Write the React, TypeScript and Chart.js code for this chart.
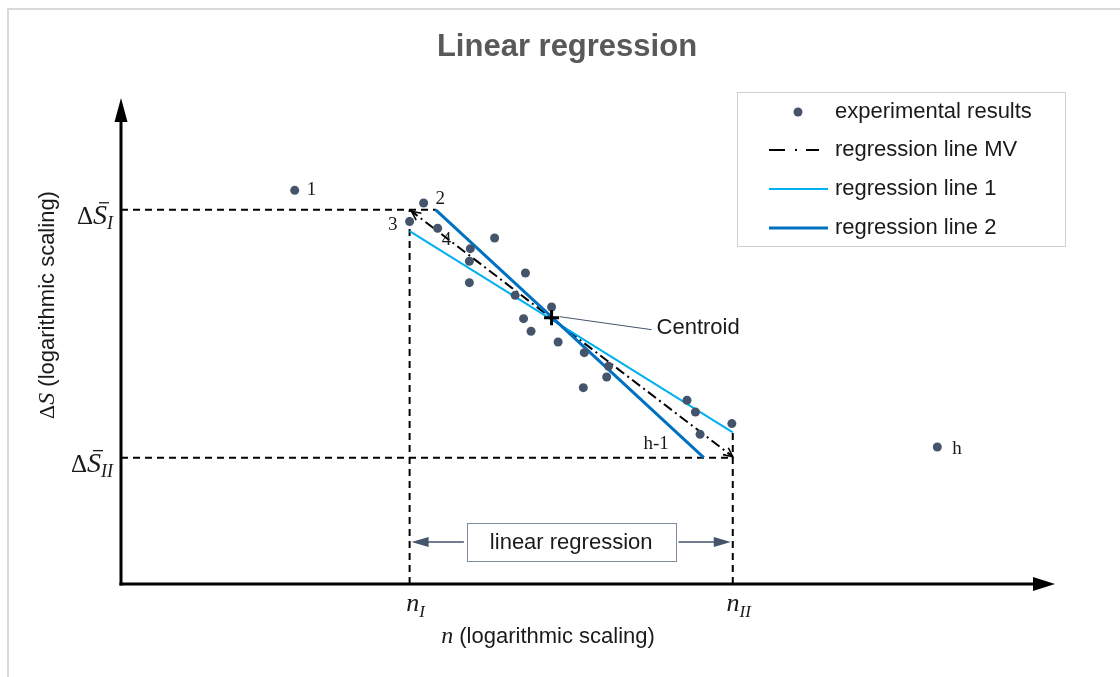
import React, { useEffect, useRef } from "react";
import { Chart, registerables } from "chart.js";

Chart.register(...registerables);

// ---- data (schematic units: x = log n, y = log ΔS) ----
const expX = [1.86, 3.24, 3.09, 3.39, 3.74, 3.73, 3.73, 4.0, 4.33, 4.22, 4.61, 4.31, 4.39, 4.68, 4.96, 5.22, 5.2, 4.95, 6.06, 6.15, 6.54, 6.2, 8.74];
const expY = [4.05, 3.92, 3.73, 3.66, 3.45, 3.32, 3.1, 3.56, 3.2, 2.97, 2.85, 2.73, 2.6, 2.49, 2.38, 2.24, 2.13, 2.02, 1.89, 1.77, 1.65, 1.54, 1.41];
const tagIndex = [0, 1, 2, 3, 21, 22];
const tagText = ["1", "2", "3", "4", "h-1", "h"];

const mvX = [3.09, 6.55];
const mvY = [3.85, 1.31];
const reg1X = [3.09, 6.55];
const reg1Y = [3.63, 1.56];
const reg2X = [3.37, 6.24];
const reg2Y = [3.85, 1.3];
const centroidX = [4.61];
const centroidY = [2.74];

const nTickValues = [3.09, 6.55];
const nTickSubs = ["I", "II"];
const sTickValues = [3.85, 1.3];
const sTickSubs = ["I", "II"];

const legendLabels = ["experimental results", "regression line MV", "regression line 1", "regression line 2"];
const titleText = "Linear regression";
const xTitleParts = ["n", " (logarithmic scaling)"];
const yTitleParts = ["Δ", "S", " (logarithmic scaling)"];
const rangeLabel = "linear regression";
const centroidLabel = "Centroid";

const SANS = "'Liberation Sans', Arial, sans-serif";
const SERIF = "'Liberation Serif', 'Times New Roman', serif";
const PT = "#44546A";

type Part = { t: string; f: string; dy?: number; bar?: boolean };

function richWidth(ctx: CanvasRenderingContext2D, parts: Part[]) {
  let w = 0;
  for (const p of parts) {
    ctx.font = p.f;
    w += ctx.measureText(p.t).width;
  }
  return w;
}

function drawRich(ctx: CanvasRenderingContext2D, parts: Part[], x: number, y: number, align: "left" | "center" | "right") {
  const w = richWidth(ctx, parts);
  let cx = align === "left" ? x : align === "center" ? x - w / 2 : x - w;
  ctx.textAlign = "left";
  for (const p of parts) {
    ctx.font = p.f;
    const pw = ctx.measureText(p.t).width;
    ctx.fillText(p.t, cx, y + (p.dy || 0));
    if (p.bar) {
      ctx.save();
      ctx.lineWidth = 1.3;
      ctx.beginPath();
      ctx.moveTo(cx + 6, y - 21);
      ctx.lineTo(cx + pw + 2, y - 21);
      ctx.stroke();
      ctx.restore();
    }
    cx += pw;
  }
}

function arrowHeadFilled(ctx: CanvasRenderingContext2D, tx: number, ty: number, ang: number, len: number, half: number) {
  ctx.beginPath();
  ctx.moveTo(tx, ty);
  ctx.lineTo(tx - len * Math.cos(ang) + half * Math.sin(ang), ty - len * Math.sin(ang) - half * Math.cos(ang));
  ctx.lineTo(tx - len * Math.cos(ang) - half * Math.sin(ang), ty - len * Math.sin(ang) + half * Math.cos(ang));
  ctx.closePath();
  ctx.fill();
}

function arrowHeadOpen(ctx: CanvasRenderingContext2D, tx: number, ty: number, ang: number, len: number) {
  const a1 = ang + Math.PI - 0.45;
  const a2 = ang + Math.PI + 0.45;
  ctx.beginPath();
  ctx.moveTo(tx + len * Math.cos(a1), ty + len * Math.sin(a1));
  ctx.lineTo(tx, ty);
  ctx.lineTo(tx + len * Math.cos(a2), ty + len * Math.sin(a2));
  ctx.stroke();
}

const xy = (xs: number[], ys: number[]) => xs.map((x, i) => ({ x, y: ys[i] }));

const schematicPlugin = {
  id: "schematic",
  beforeDatasetsDraw(chart: any) {
    const ctx: CanvasRenderingContext2D = chart.ctx;
    const { left, right, top, bottom } = chart.chartArea;
    ctx.save();
    ctx.strokeStyle = "#000";
    ctx.fillStyle = "#000";
    ctx.lineWidth = 3;
    ctx.beginPath();
    ctx.moveTo(left, bottom + 1.5);
    ctx.lineTo(left, top + 20);
    ctx.stroke();
    arrowHeadFilled(ctx, left, top, -Math.PI / 2, 24, 6.5);
    ctx.beginPath();
    ctx.moveTo(left - 1.5, bottom);
    ctx.lineTo(right - 18, bottom);
    ctx.stroke();
    arrowHeadFilled(ctx, right, bottom, 0, 22, 7);
    ctx.restore();
  },
  afterDatasetsDraw(chart: any) {
    const ctx: CanvasRenderingContext2D = chart.ctx;
    const xs = chart.scales.x;
    const ys = chart.scales.y;
    const { left, right, top, bottom } = chart.chartArea;
    ctx.save();

    // title
    ctx.fillStyle = "#595959";
    ctx.font = `bold 31px ${SANS}`;
    ctx.textAlign = "center";
    ctx.textBaseline = "alphabetic";
    ctx.fillText(titleText, 567, 56);

    // MV arrowheads
    ctx.strokeStyle = "#000";
    ctx.lineWidth = 1.6;
    const ax0 = xs.getPixelForValue(mvX[0]);
    const ay0 = ys.getPixelForValue(mvY[0]);
    const ax1 = xs.getPixelForValue(mvX[1]);
    const ay1 = ys.getPixelForValue(mvY[1]);
    const ang = Math.atan2(ay1 - ay0, ax1 - ax0);
    arrowHeadOpen(ctx, ax1, ay1, ang, 10);
    arrowHeadOpen(ctx, ax0 + 2, ay0 + 1.5, ang + Math.PI, 10);

    // point tags
    ctx.fillStyle = "#1a1a1a";
    ctx.font = `19px ${SERIF}`;
    ctx.textBaseline = "middle";
    const tagOffsets: [number, number, CanvasTextAlign][] = [
      [12, 0, "left"],
      [12, -4, "left"],
      [-12, 4, "right"],
      [4, 12, "left"],
      [-44, 10, "center"],
      [15, 2, "left"],
    ];
    tagIndex.forEach((idx, i) => {
      const px = xs.getPixelForValue(expX[idx]);
      const py = ys.getPixelForValue(expY[idx]);
      const [dx, dy, al] = tagOffsets[i];
      ctx.textAlign = al;
      ctx.fillText(tagText[i], px + dx, py + dy);
    });

    // centroid leader + label
    const cx = xs.getPixelForValue(centroidX[0]);
    const cy = ys.getPixelForValue(centroidY[0]);
    ctx.strokeStyle = PT;
    ctx.lineWidth = 1;
    ctx.beginPath();
    ctx.moveTo(cx + 8, cy - 1);
    ctx.lineTo(cx + 100, cy + 12);
    ctx.stroke();
    ctx.fillStyle = "#1a1a1a";
    ctx.font = `22px ${SANS}`;
    ctx.textAlign = "left";
    ctx.fillText(centroidLabel, cx + 105, cy + 10);

    // y tick labels
    ctx.fillStyle = "#1a1a1a";
    ctx.strokeStyle = "#1a1a1a";
    ctx.textBaseline = "alphabetic";
    sTickValues.forEach((v, i) => {
      const py = ys.getPixelForValue(v);
      drawRich(
        ctx,
        [
          { t: "Δ", f: `25px ${SERIF}` },
          { t: "S", f: `italic 28px ${SERIF}`, bar: true },
          { t: sTickSubs[i], f: `italic 18px ${SERIF}`, dy: 5 },
        ],
        left - 8,
        py + 14,
        "right"
      );
    });

    // x tick labels
    nTickValues.forEach((v, i) => {
      const px = xs.getPixelForValue(v);
      drawRich(
        ctx,
        [
          { t: "n", f: `italic 26px ${SERIF}` },
          { t: nTickSubs[i], f: `italic 17px ${SERIF}`, dy: 6 },
        ],
        px + 6,
        bottom + 27,
        "center"
      );
    });

    // axis titles
    drawRich(
      ctx,
      [
        { t: xTitleParts[0], f: `italic 24px ${SERIF}` },
        { t: xTitleParts[1], f: `22px ${SANS}` },
      ],
      548,
      bottom + 59,
      "center"
    );
    ctx.save();
    ctx.translate(54, 305);
    ctx.rotate(-Math.PI / 2);
    drawRich(
      ctx,
      [
        { t: yTitleParts[0], f: `22px ${SERIF}` },
        { t: yTitleParts[1], f: `italic 24px ${SERIF}` },
        { t: yTitleParts[2], f: `22px ${SANS}` },
      ],
      0,
      0,
      "center"
    );
    ctx.restore();

    // range bracket
    const n0 = xs.getPixelForValue(nTickValues[0]);
    const n1 = xs.getPixelForValue(nTickValues[1]);
    const by = bottom - 42;
    ctx.font = `22px ${SANS}`;
    const tw = ctx.measureText(rangeLabel).width;
    const bw = tw + 46;
    const bx = (n0 + n1) / 2 - bw / 2;
    ctx.strokeStyle = "#7f8ca0";
    ctx.lineWidth = 1;
    ctx.strokeRect(Math.round(bx) + 0.5, Math.round(by - 19) + 0.5, Math.round(bw), 38);
    ctx.fillStyle = "#1a1a1a";
    ctx.textAlign = "center";
    ctx.textBaseline = "middle";
    ctx.fillText(rangeLabel, (n0 + n1) / 2, by + 1);
    ctx.strokeStyle = PT;
    ctx.fillStyle = PT;
    ctx.lineWidth = 1.5;
    ctx.beginPath();
    ctx.moveTo(bx - 3, by);
    ctx.lineTo(n0 + 10, by);
    ctx.moveTo(bx + bw + 3, by);
    ctx.lineTo(n1 - 10, by);
    ctx.stroke();
    arrowHeadFilled(ctx, n0 + 2, by, Math.PI, 17, 5);
    arrowHeadFilled(ctx, n1 - 2, by, 0, 17, 5);

    // legend
    const lx = right - 318;
    const ly = top - 6;
    ctx.strokeStyle = "#d0d0d0";
    ctx.lineWidth = 1;
    ctx.strokeRect(lx + 0.5, ly + 0.5, 328, 154);
    const rows = [20, 58, 97, 136];
    const ds = chart.data.datasets;
    ctx.font = `22px ${SANS}`;
    ctx.textAlign = "left";
    ctx.textBaseline = "middle";
    rows.forEach((ry, i) => {
      const yy = ly + ry;
      if (i === 0) {
        ctx.fillStyle = ds[0].backgroundColor;
        ctx.beginPath();
        ctx.arc(lx + 61, yy, 4.5, 0, Math.PI * 2);
        ctx.fill();
      } else {
        const d = ds[i + 1];
        ctx.save();
        ctx.strokeStyle = d.borderColor;
        ctx.lineWidth = d.borderWidth;
        if (i === 1) ctx.setLineDash([16, 10, 2, 9]);
        ctx.beginPath();
        ctx.moveTo(lx + 32, yy);
        ctx.lineTo(lx + (i === 1 ? 82 : 91), yy);
        ctx.stroke();
        ctx.restore();
      }
      ctx.fillStyle = "#1a1a1a";
      ctx.fillText(legendLabels[i], lx + 98, yy);
    });

    ctx.restore();
  },
};

export default function App() {
  const ref = useRef<HTMLCanvasElement | null>(null);

  useEffect(() => {
    if (!ref.current) return;
    const guide = (pts: { x: number; y: number }[]) => ({
      data: pts,
      showLine: true,
      borderColor: "#000",
      borderWidth: 2,
      borderDash: [7, 5],
      pointRadius: 0,
      fill: false,
      order: 5,
    });
    const chart = new Chart(ref.current, {
      type: "scatter",
      data: {
        datasets: [
          {
            label: legendLabels[0],
            data: xy(expX, expY),
            backgroundColor: PT,
            borderColor: PT,
            borderWidth: 0,
            pointRadius: 4.5,
            showLine: false,
            order: 0,
          },
          {
            label: "centroid",
            data: xy(centroidX, centroidY),
            pointStyle: "cross",
            pointRadius: 7.5,
            borderColor: "#000",
            borderWidth: 3,
            showLine: false,
            order: -1,
          },
          {
            label: legendLabels[1],
            data: xy(mvX, mvY),
            showLine: true,
            borderColor: "#000",
            borderWidth: 2,
            borderDash: [10, 4, 2, 4],
            pointRadius: 0,
            order: 3,
          },
          {
            label: legendLabels[2],
            data: xy(reg1X, reg1Y),
            showLine: true,
            borderColor: "#00B0F0",
            borderWidth: 2,
            pointRadius: 0,
            order: 2,
          },
          {
            label: legendLabels[3],
            data: xy(reg2X, reg2Y),
            showLine: true,
            borderColor: "#0070C0",
            borderWidth: 3,
            pointRadius: 0,
            order: 1,
          },
          guide([{ x: 0, y: sTickValues[0] }, { x: reg2X[0], y: sTickValues[0] }]),
          guide([{ x: 0, y: sTickValues[1] }, { x: nTickValues[1], y: sTickValues[1] }]),
          guide([{ x: nTickValues[0], y: 0 }, { x: nTickValues[0], y: sTickValues[0] }]),
          guide([{ x: nTickValues[1], y: 0 }, { x: nTickValues[1], y: reg1Y[1] }]),
        ] as any,
      },
      options: {
        animation: false,
        responsive: false,
        events: [],
        clip: false as any,
        layout: { padding: { left: 121, right: 65, top: 98, bottom: 93 } },
        scales: {
          x: { type: "linear", min: 0, max: 10, display: false },
          y: { type: "linear", min: 0, max: 5, display: false },
        },
        plugins: {
          legend: { display: false },
          title: { display: false },
          tooltip: { enabled: false },
        },
      },
      plugins: [schematicPlugin],
    });
    return () => chart.destroy();
  }, []);

  return (
    <div style={{ position: "fixed", left: 0, top: 0, width: 1120, height: 677, background: "#fff", overflow: "hidden" }}>
      <div
        style={{
          position: "absolute",
          left: 7,
          top: 8,
          width: 1113,
          height: 669,
          borderTop: "2px solid #d9d9d9",
          borderLeft: "2px solid #d9d9d9",
          boxSizing: "border-box",
        }}
      />
      <canvas ref={ref} width={1120} height={677} style={{ position: "absolute", left: 0, top: 0 }} />
    </div>
  );
}
